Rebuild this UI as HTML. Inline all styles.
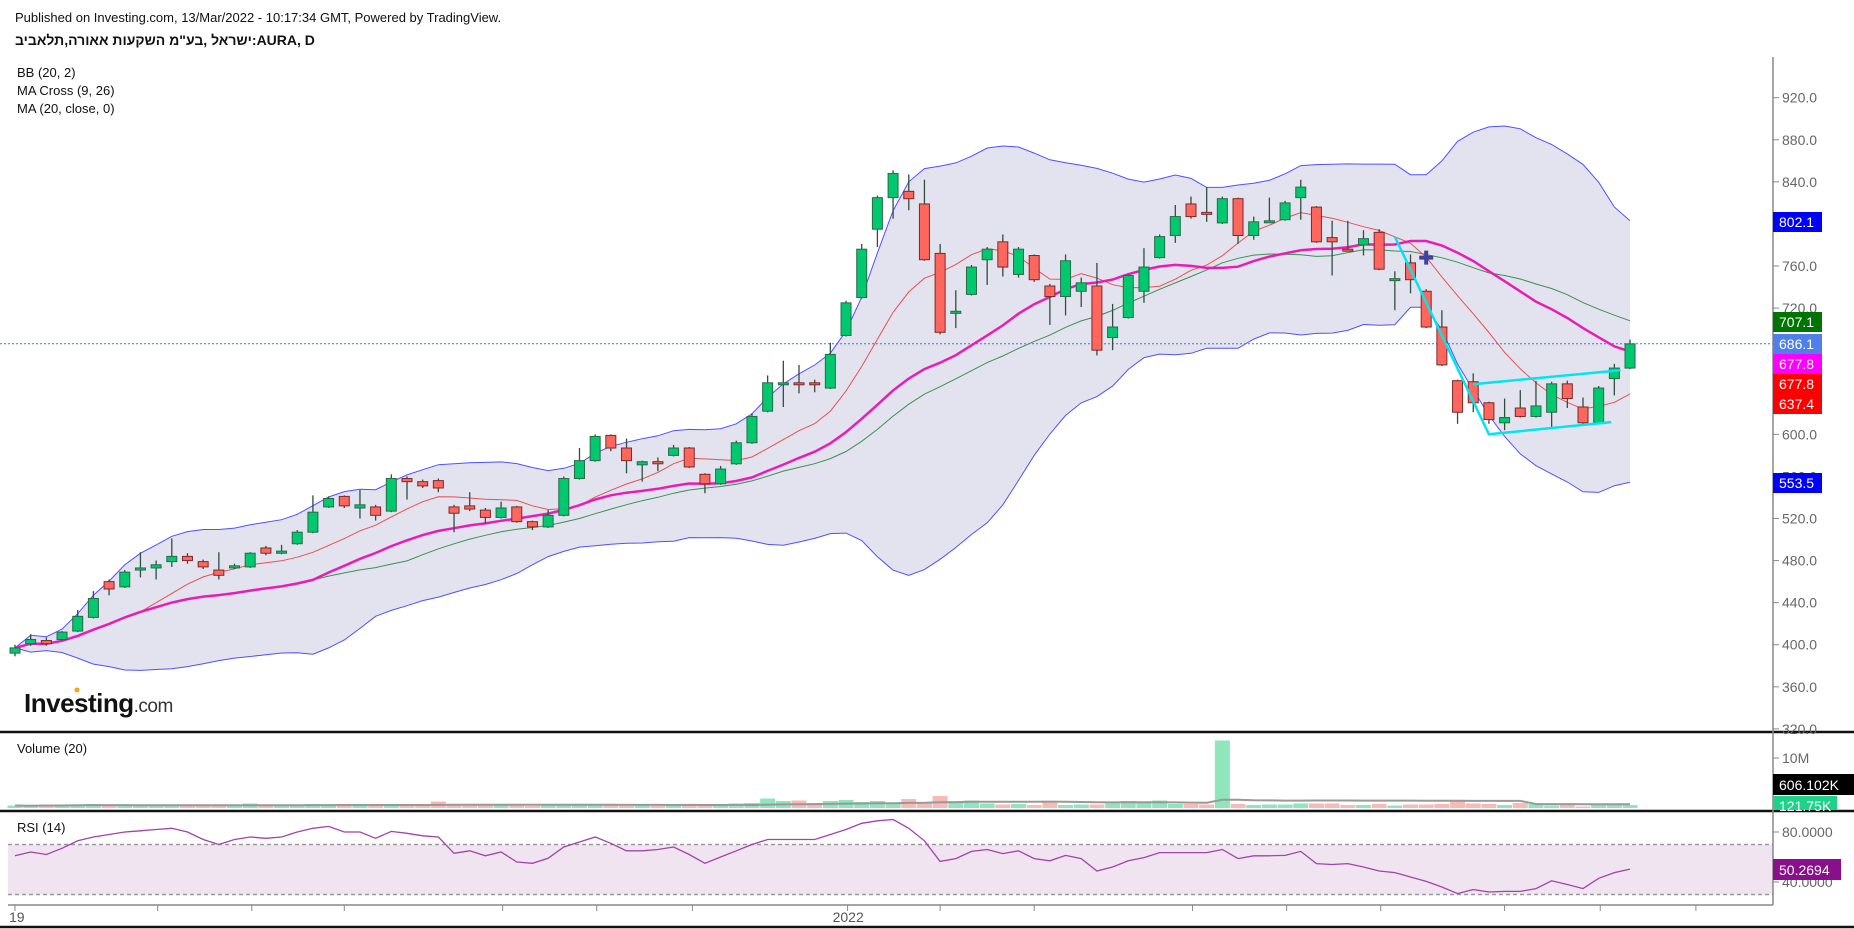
<!DOCTYPE html>
<html><head><meta charset="utf-8"><style>
html,body{margin:0;padding:0;background:#fff;}
svg{display:block;font-family:"Liberation Sans","Noto Sans CJK SC",sans-serif;}
.heb{unicode-bidi:isolate;}
</style></head><body>
<svg id="chart" width="1854" height="929" viewBox="0 0 1854 929" xmlns="http://www.w3.org/2000/svg">
<text x="15" y="22" font-size="13" fill="#111">Published on Investing.com, 13/Mar/2022 - 10:17:34 GMT, Powered by TradingView.</text>
<text x="15" y="45" font-size="14" font-weight="bold" fill="#111" direction="ltr"><tspan class="heb">תלאביב</tspan>,<tspan class="heb">אאורה</tspan> <tspan class="heb">השקעות</tspan> <tspan class="heb">בע"מ</tspan>, <tspan class="heb">ישראל</tspan>:AURA, D</text>
<g id="mainPane"></g>
<text x="17" y="77" font-size="13" fill="#111">BB (20, 2)</text>
<text x="17" y="95" font-size="13" fill="#111">MA Cross (9, 26)</text>
<text x="17" y="113" font-size="13" fill="#111">MA (20, close, 0)</text>
<g>
<text x="24" y="712" font-size="26" font-weight="bold" fill="#111" letter-spacing="-0.5">Investing<tspan font-size="19" font-weight="normal" fill="#333">.com</tspan></text>
<circle cx="77" cy="690" r="2.5" fill="#f7a21b"/>
</g>
<g id="volPane"></g>
<text x="17" y="753" font-size="13" fill="#111">Volume (20)</text>
<g id="rsiPane"></g>
<text x="17" y="832" font-size="13" fill="#111">RSI (14)</text>
<g id="axes"></g>
</svg>
<script>
const opens=[392,401,404,405,413,426,460,455,471,473,479,484,479,471,473,474,492,487,496,507,531,541,530,531,527,558,555,556,531,532,528,521,531,517,512,523,558,575,599,587,571,574,580,587,562,553,572,592,622,648,649,649,644,694,730,795,825,831,819,772,715,733,766,783,752,770,741,731,736,741,692,711,736,768,789,819,811,801,824,789,802,804,825,816,787,776,780,792,747,763,736,702,651,650,630,611,625,617,621,648,626,611,653,663];
const closes=[397,405,401,412,427,444,453,469,473,476,484,480,474,466,475,487,487,489,507,526,539,532,533,523,558,555,551,549,525,529,521,530,517,512,523,558,575,598,587,575,574,572,587,569,553,567,592,617,649,649,648,648,676,725,776,825,848,824,766,697,717,759,776,759,776,747,731,765,744,680,702,751,759,788,807,807,810,824,789,802,803,820,835,783,783,775,786,757,748,747,702,666,621,630,614,616,617,627,648,634,611,644,663,686];
const highs=[400,410,407,413,433,451,462,471,488,480,501,487,481,488,477,488,494,495,509,542,541,542,547,533,562,560,557,558,533,545,530,536,532,518,528,560,587,600,600,596,575,578,590,588,563,570,594,620,656,670,666,652,687,727,781,827,851,847,842,781,737,761,778,790,778,771,743,771,749,763,724,752,777,790,818,826,835,826,825,807,825,822,842,817,803,803,794,795,755,771,738,718,652,658,631,634,642,651,650,651,635,646,667,690];
const lows=[389,399,399,404,412,425,447,454,464,462,474,477,472,462,472,473,485,486,495,506,530,530,520,518,526,538,549,545,507,527,515,520,516,509,511,522,557,574,584,563,555,565,579,568,544,552,571,591,621,626,639,640,643,693,729,778,805,813,765,695,701,732,742,750,749,745,704,713,721,675,680,710,725,767,782,805,802,800,781,785,801,803,804,782,751,774,770,756,718,734,701,665,610,621,610,604,616,616,605,625,610,610,637,662];
const volumes=[0.5,0.4,0.6,0.5,0.7,0.8,0.6,0.5,0.4,0.5,0.6,0.5,0.4,0.6,0.5,0.9,0.6,0.5,0.7,0.8,0.6,0.5,0.7,0.6,0.8,0.5,0.6,1.3,0.6,0.5,0.7,0.6,0.5,0.4,0.6,0.8,0.7,0.6,0.5,0.4,0.5,0.4,0.6,0.7,0.5,0.6,0.9,1.0,1.9,1.4,1.5,1.0,1.4,1.6,1.2,1.4,1.1,1.8,1.0,2.4,1.2,1.5,0.9,0.7,0.8,0.6,1.1,0.6,0.7,0.7,0.9,1.4,1.2,1.5,0.8,0.8,0.7,13.5,0.8,0.6,0.7,0.7,0.9,0.9,0.9,0.6,0.6,0.8,0.5,0.7,0.7,0.8,1.6,0.9,0.8,0.6,1.0,0.8,0.5,0.6,0.3,0.7,0.7,0.6];
const rsiValues=[61,64,62,67,73,76,78,80,81,82,83,80,74,70,74,76,75,76,80,83,84.5,80,80,75,80.5,79,77,76,63,65,61,64,56,55,59,68,72,76,71,65,65,66,68,62,55,60,65,70,74,74,74,74,78,82,87,89,90,83,73,56.5,58.7,64.5,66,62.7,65,58.7,57,61.3,58.7,48.8,52,57,59.5,63.5,63.5,63.5,63.5,66,58.7,61,61,61.3,64.5,54.7,54,54.7,52,48.8,47.5,44,40.5,36,30.7,34,32,32.5,32.5,34.7,41,38,34.7,43,47.5,50.3];
const priceTicks=[920,880,840,800,760,720,680,640,600,560,520,480,440,400,360,320];
const rsiTicks=[80,40];
const rsiBands=[70,30];
const volTicks=[10];
const currentPrice=686.1;
const xTickIdx=[0,9.1,15.1,21,31.1,37.1,43.2,53.1,59,65,75.1,81.1,87.1,95,101.1,107.2];
const xLabels=[{i:0,t:"19"},{i:53.1,t:"2022"}];
const flagPts=[[88,788],[94,600],[101.8,611.6]];
const flagTop=[[93,647.7],[102.4,661]];
const crossMark=[90,768];
const badges=[{t:"802.1",c:"#0000ff",y:222},{t:"707.1",c:"#007400",y:322},{t:"686.1",c:"#4f7fe8",y:344},{t:"677.8",c:"#ff00ff",y:364},{t:"677.8",c:"#ff0000",y:384},{t:"637.4",c:"#ff0000",y:404},{t:"553.5",c:"#0000ff",y:483}];

const NS="http://www.w3.org/2000/svg";
const X=i=>15+i*15.68;
const Y=p=>97.7+(920-p)*1.052;
const VY=v=>808-v*5;
const RY=r=>832+(80-r)*1.25;
function mk(tag,parent,attrs){const e=document.createElementNS(NS,tag);for(const k in attrs)e.setAttribute(k,attrs[k]);parent.appendChild(e);return e;}
function sma(arr,n,i){const s=Math.max(0,i-n+1);let t=0;for(let k=s;k<=i;k++)t+=arr[k];return t/(i-s+1);}
function sd(arr,n,i){const m=sma(arr,n,i);const s=Math.max(0,i-n+1);let t=0;for(let k=s;k<=i;k++)t+=(arr[k]-m)**2;return Math.sqrt(t/(i-s+1));}
function path(vals,fx,fy){return vals.map((v,i)=>(i?'L':'M')+fx(i).toFixed(1)+','+fy(v).toFixed(1)).join('');}

const main=document.getElementById('mainPane');
const N=closes.length;
const up=[],lo=[],m9=[],m20=[],m26=[];
for(let i=0;i<N;i++){const m=sma(closes,20,i),s=sd(closes,20,i);m20.push(m);up.push(m+2*s);lo.push(m-2*s);m9.push(sma(closes,9,i));m26.push(sma(closes,26,i));}
let fd=path(up,X,Y);for(let i=N-1;i>=0;i--)fd+='L'+X(i).toFixed(1)+','+Y(lo[i]).toFixed(1);fd+='Z';
const fill=mk('path',main,{d:fd,fill:'#e3e3f0',stroke:'none'});


const ub=mk('path',main,{d:path(up,X,Y),fill:'none',stroke:'#5050ff','stroke-width':1});


const lb=mk('path',main,{d:path(lo,X,Y),fill:'none',stroke:'#5050ff','stroke-width':1});


const cp=mk('line',main,{x1:0,x2:1773,y1:Y(currentPrice),y2:Y(currentPrice),stroke:'#4a6ee0','stroke-width':1,'stroke-dasharray':'2,2'});


const l26=mk('path',main,{d:path(m26,X,Y),fill:'none',stroke:'#3f8f4f','stroke-width':1});


const l9=mk('path',main,{d:path(m9,X,Y),fill:'none',stroke:'#e85050','stroke-width':1});


const l20=mk('path',main,{d:path(m20,X,Y),fill:'none',stroke:'#e81eb4','stroke-width':2.5});


for(let i=0;i<N;i++){
  const g=closes[i]>=opens[i];
  const w=mk('line',main,{x1:X(i),x2:X(i),y1:Y(highs[i]),y2:Y(lows[i]),stroke:'#2f4f3f','stroke-width':1.3});
  
  
  const top=Y(Math.max(opens[i],closes[i])),bot=Y(Math.min(opens[i],closes[i]));
  const b=mk('rect',main,{x:X(i)-5,y:top,width:10,height:Math.max(2,bot-top),fill:g?'#00c86e':'#ff675e',stroke:g?'#2a6a48':'#7a2a2a','stroke-width':1});
  
  
}
const fl=mk('path',main,{d:path(flagPts,i=>X(flagPts[i][0]),p=>Y(p[1])),fill:'none',stroke:'#00e5f0','stroke-width':2.5});


const ft=mk('path',main,{d:path(flagTop,i=>X(flagTop[i][0]),p=>Y(p[1])),fill:'none',stroke:'#00e5f0','stroke-width':2.5});


const cx=X(crossMark[0]),cy=Y(crossMark[1]);
const cm=mk('path',main,{d:`M${cx-7},${cy}H${cx+7}M${cx},${cy-7}V${cy+7}`,stroke:'#4040a0','stroke-width':4});



const vp=document.getElementById('volPane');
const vma=volumes.map((v,i)=>sma(volumes,20,i));
for(let i=0;i<N;i++){
  const g=closes[i]>=opens[i];
  const r=mk('rect',vp,{x:X(i)-7.5,y:VY(volumes[i]),width:15,height:808-VY(volumes[i]),fill:g?'#8fe6bd':'#f9b9b5'});
  
  
}
const vl=mk('path',vp,{d:path(vma,X,VY),fill:'none',stroke:'#999','stroke-width':2});



const rp=document.getElementById('rsiPane');
const rb=mk('rect',rp,{x:8,y:RY(rsiBands[0]),width:1765,height:RY(rsiBands[1])-RY(rsiBands[0]),fill:'#f1e4f1'});


rsiBands.forEach(b=>{const l=mk('line',rp,{x1:8,x2:1773,y1:RY(b),y2:RY(b),stroke:'#999','stroke-width':1.5,'stroke-dasharray':'4,3'});

});
const rl=mk('path',rp,{d:path(rsiValues,X,RY),fill:'none',stroke:'#a044a8','stroke-width':1.3});



const ax=document.getElementById('axes');
[[0,732,1854,732],[0,811,1854,811],[0,927,1854,927]].forEach(s=>{const l=mk('line',ax,{x1:s[0],y1:s[1],x2:s[2],y2:s[3],stroke:'#111','stroke-width':2.5});

});
const va=mk('line',ax,{x1:1773,x2:1773,y1:57,y2:905,stroke:'#888','stroke-width':1.5});


const ba=mk('line',ax,{x1:8,x2:1773,y1:905,y2:905,stroke:'#888','stroke-width':1.5});


priceTicks.forEach(p=>{mk('line',ax,{x1:1773,x2:1779,y1:Y(p),y2:Y(p),stroke:'#888'});
const t=mk('text',ax,{x:1782,y:Y(p)+5,'font-size':14,fill:'#666'});t.textContent=p.toFixed(1);

});
volTicks.forEach(v=>{mk('line',ax,{x1:1773,x2:1779,y1:VY(v),y2:VY(v),stroke:'#888'});
const t=mk('text',ax,{x:1782,y:VY(v)+5,'font-size':14,fill:'#666'});t.textContent=v+'M';

});
rsiTicks.forEach(r=>{mk('line',ax,{x1:1773,x2:1779,y1:RY(r),y2:RY(r),stroke:'#888'});
const t=mk('text',ax,{x:1782,y:RY(r)+5,'font-size':14,fill:'#666'});t.textContent=r.toFixed(4);

});
xTickIdx.forEach(i=>{const l=mk('line',ax,{x1:X(i),x2:X(i),y1:905,y2:911,stroke:'#888'});

});
xLabels.forEach(o=>{const t=mk('text',ax,{x:X(o.i)-(o.t.length>2?15:6),y:922,'font-size':14,fill:'#555'});t.textContent=o.t;

});
function badge(txt,col,y,name){const g=mk('g',ax,{});


mk('rect',g,{x:1773,y:y-10,width:49,height:20,fill:col});
const t=mk('text',g,{x:1779,y:y+5,'font-size':14,fill:'#fff'});t.textContent=txt;}
badges.forEach(b=>badge(b.t,b.c,b.y,'price-badge'));
const vb=mk('g',ax,{});


mk('rect',vb,{x:1773,y:774,width:81,height:21,fill:'#000'});
let t1=mk('text',vb,{x:1779,y:790,'font-size':14,fill:'#fff'});t1.textContent='606.102K';
mk('rect',vb,{x:1773,y:796,width:64,height:14,fill:'#1fd28a'});
let t2=mk('text',vb,{x:1779,y:811,'font-size':14,fill:'#fff'});t2.textContent='121.75K';
const rbg=mk('g',ax,{});


mk('rect',rbg,{x:1773,y:859,width:68,height:21,fill:'#8a0f8a'});
let t3=mk('text',rbg,{x:1779,y:875,'font-size':14,fill:'#fff'});t3.textContent='50.2694';
</script>
</body></html>
